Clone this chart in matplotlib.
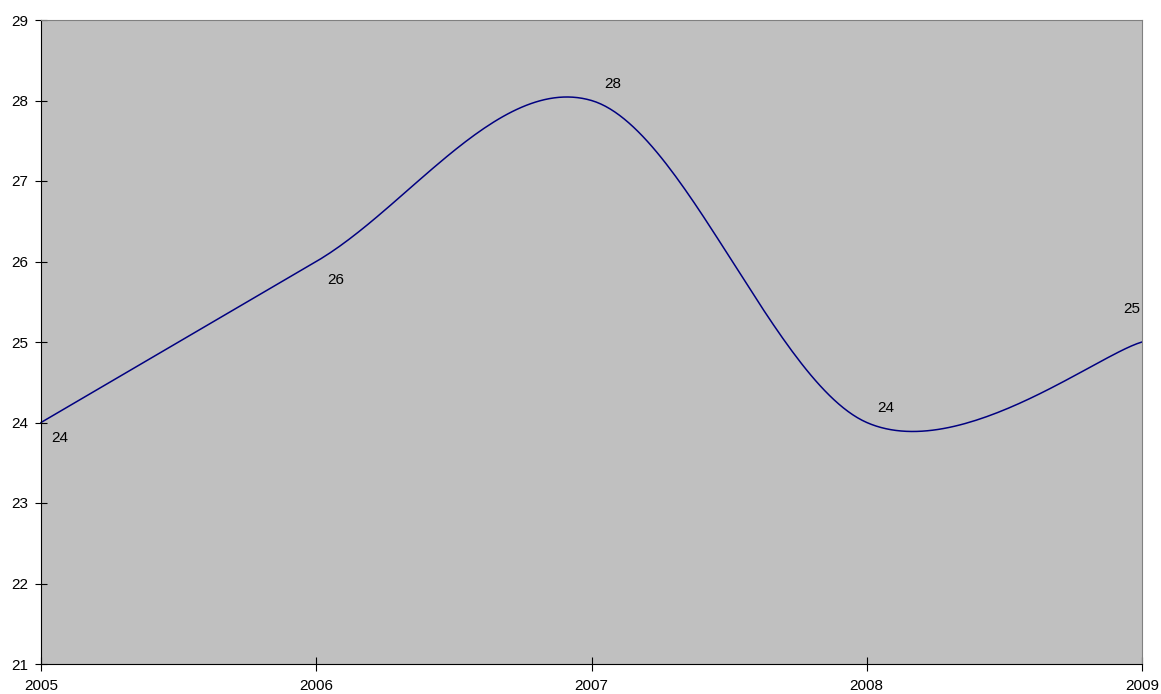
import numpy as np
import matplotlib.pyplot as plt

years = [2005, 2006, 2007, 2008, 2009]
values = [24, 26, 28, 24, 25]
labels = ["24", "26", "28", "24", "25"]
# pixel offsets of the data labels relative to each point
label_dx = [19, 20, 21, 19, -10]
label_dy = [-15, -19, 16, 15, 33]

plt.rcParams['font.family'] = ['Liberation Sans', 'DejaVu Sans']
plt.rcParams['font.size'] = 11


def excel_smooth(xs, ys, n=60):
    # bezier segments with control points at 1/6 of neighbour difference
    xs = np.asarray(xs, float)
    ys = np.asarray(ys, float)
    px = np.concatenate([[xs[0]], xs, [xs[-1]]])
    py = np.concatenate([[ys[0]], ys, [ys[-1]]])
    t = np.linspace(0, 1, n)[:, None]
    out_x, out_y = [], []
    for i in range(1, len(xs)):
        p0 = np.array([px[i], py[i]])
        p3 = np.array([px[i + 1], py[i + 1]])
        p1 = p0 + (np.array([px[i + 1], py[i + 1]]) - np.array([px[i - 1], py[i - 1]])) / 6
        p2 = p3 - (np.array([px[i + 2], py[i + 2]]) - np.array([px[i], py[i]])) / 6
        pts = (1 - t) ** 3 * p0 + 3 * (1 - t) ** 2 * t * p1 + 3 * (1 - t) * t ** 2 * p2 + t ** 3 * p3
        out_x.extend(pts[:, 0])
        out_y.extend(pts[:, 1])
    return out_x, out_y


fig = plt.figure(figsize=(11.61, 6.94), dpi=100)
ax = fig.add_axes([41 / 1161, 1 - 664 / 694, 1101 / 1161, 644 / 694])
ax.set_facecolor('#C0C0C0')

sx, sy = excel_smooth(years, values)
ax.plot(sx, sy, color='#000080', lw=1.1, clip_on=False)

for x, y, lab, dx, dy in zip(years, values, labels, label_dx, label_dy):
    ax.annotate(lab, (x, y), xytext=(dx, dy), textcoords='offset pixels',
                ha='center', va='center', fontsize=11)

ax.set_xlim(2005, 2009)
ax.set_ylim(21, 29)
ax.set_xticks(years)
ax.set_yticks(range(21, 30))

for s in ['top', 'right']:
    ax.spines[s].set_color('#808080')
for s in ['left', 'bottom']:
    ax.spines[s].set_color('black')
ax.tick_params(axis='y', direction='inout', length=9, pad=5)
ax.tick_params(axis='x', direction='inout', length=10, pad=6)

fig.savefig('out.png', dpi=100)
